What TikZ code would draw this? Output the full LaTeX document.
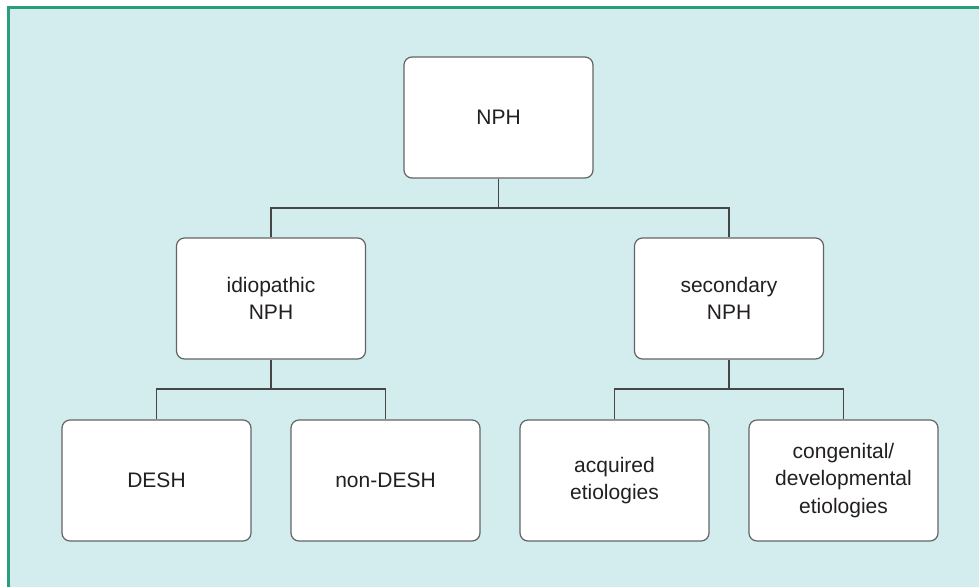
\documentclass[tikz,border=0pt]{standalone}
\usepackage{fontspec}
\setmainfont{Liberation Sans}
\definecolor{panelbg}{RGB}{211,236,238}
\definecolor{framegreen}{RGB}{42,157,126}
\definecolor{boxedge}{RGB}{100,100,100}
\definecolor{linkgray}{RGB}{70,70,70}
\definecolor{txt}{RGB}{35,31,32}
\begin{document}
\begin{tikzpicture}[x=1pt,y=-1pt,
  box/.style={draw=boxedge, line width=1.2pt, fill=white, rounded corners=8pt,
    minimum width=189pt, minimum height=121pt, align=center, inner sep=0pt,
    text=txt, font=\fontsize{21}{27.5}\selectfont},
  link/.style={draw=linkgray, line width=1.2pt}]
\useasboundingbox (0,0) rectangle (979,587);
% panel background and frame
\fill[panelbg] (8.5,7.5) rectangle (979,587);
\draw[framegreen, line width=3pt] (8.5,587) -- (8.5,7.5) -- (979,7.5);

% nodes
\node[box] (nph) at (498.5,117.5) {NPH};
\node[box] (idio) at (271,298.5) {idiopathic\\NPH};
\node[box] (sec) at (729,298.5) {secondary\\NPH};
\node[box] (desh) at (156.5,480.5) {DESH};
\node[box] (nondesh) at (385.5,480.5) {non-DESH};
\node[box] (acq) at (614.5,480.5) {acquired\\etiologies};
\node[box] (cong) at (843.5,480.5) {congenital/\\developmental\\etiologies};

% junction points
\coordinate (j0) at (498.5,208);
\coordinate (j1) at (271,389);
\coordinate (j2) at (729,389);

% connectors
\draw[link] (nph.south) -- (j0);
\draw[link] (idio.north) |- (j0) -| (sec.north);
\draw[link] (idio.south) -- (j1);
\draw[link] (desh.north) |- (j1) -| (nondesh.north);
\draw[link] (sec.south) -- (j2);
\draw[link] (acq.north) |- (j2) -| (cong.north);
\end{tikzpicture}
\end{document}
